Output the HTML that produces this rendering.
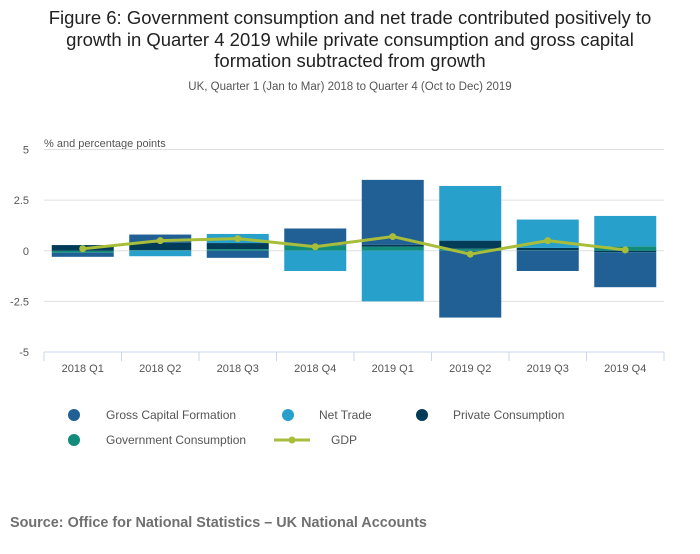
<!DOCTYPE html>
<html><head><meta charset="utf-8"><style>
body{margin:0;background:#fff;font-family:"Liberation Sans",sans-serif;}
svg text{font-family:"Liberation Sans",sans-serif;}
</style></head><body>
<svg id="c" width="700" height="549" xmlns="http://www.w3.org/2000/svg">
<text x="350" y="24" text-anchor="middle" font-size="18.5" fill="#222"><tspan x="350" y="24">Figure 6: Government consumption and net trade contributed positively to</tspan><tspan x="350" y="46">growth in Quarter 4 2019 while private consumption and gross capital</tspan><tspan x="350" y="67">formation subtracted from growth</tspan></text>
<text x="350" y="90" text-anchor="middle" font-size="11.5" fill="#555">UK, Quarter 1 (Jan to Mar) 2018 to Quarter 4 (Oct to Dec) 2019</text>
<text x="44" y="147" font-size="11" fill="#555">% and percentage points</text>
<g id="grid"></g><g id="bars"></g><g id="line"></g><g id="axis"></g>
<g font-size="12" fill="#555">
<circle cx="74" cy="415" r="6" fill="#206095"/>
<text x="106" y="419">Gross Capital Formation</text>
<circle cx="288" cy="415" r="6" fill="#27a0cc"/>
<text x="319" y="419">Net Trade</text>
<circle cx="422" cy="415" r="6" fill="#003c57"/>
<text x="453" y="419">Private Consumption</text>
<circle cx="74" cy="440" r="6" fill="#118c7b"/>
<text x="106" y="444">Government Consumption</text>
<line x1="274" y1="440" x2="310" y2="440" stroke="#a8bd3a" stroke-width="3"/>
<circle cx="292" cy="440" r="3.5" fill="#a8bd3a"/>
<text x="331" y="444">GDP</text>
</g>
<text x="10" y="527" font-size="14.4" font-weight="bold" fill="#707070">Source: Office for National Statistics – UK National Accounts</text>
</svg>
<script>
const categories=["2018 Q1","2018 Q2","2018 Q3","2018 Q4","2019 Q1","2019 Q2","2019 Q3","2019 Q4"];
const gcf=[-0.2,0.4,-0.35,0.83,3.2,-3.3,-1.0,-1.73];
const netTrade=[0,-0.27,0.45,-1.0,-2.5,2.7,1.4,1.5];
const privateCons=[0.28,0.37,0.3,0.02,0.1,0.4,0.12,-0.07];
const govCons=[-0.1,0.03,0.08,0.25,0.2,0.1,0.02,0.22];
const gdp=[0.1,0.5,0.6,0.2,0.7,-0.17,0.5,0.04];
const yTicks=[5,2.5,0,-2.5,-5];
const NS="http://www.w3.org/2000/svg";
const x0=44,x1=664,yTop=149.5,yBot=352;
const bw=(x1-x0)/categories.length;
function y(v){return yTop+(5-v)*(yBot-yTop)/10;}
function xc(i){return x0+bw*(i+0.5);}
function mk(t,a,p){const e=document.createElementNS(NS,t);for(const k in a)e.setAttribute(k,a[k]);p.appendChild(e);return e;}
const grid=document.getElementById('grid');
yTicks.forEach(v=>{
 if(v>-5){const l=mk('line',{x1:x0,x2:x1,y1:y(v),y2:y(v),stroke:'#e0e0e0','stroke-width':1},grid);
 
 }
 const t=mk('text',{x:29,y:y(v)+4,'text-anchor':'end','font-size':11,fill:'#555'},grid);t.textContent=v;
 
 
});
const series=[[gcf,'#206095','gcf'],[netTrade,'#27a0cc','net-trade'],[privateCons,'#003c57','private-consumption'],[govCons,'#118c7b','government-consumption']];
const bars=document.getElementById('bars');
categories.forEach((c,i)=>{
 let pos=0,neg=0;
 for(let s=series.length-1;s>=0;s--){
  const v=series[s][0][i];let a,b;
  if(v>=0){a=pos;b=pos+v;pos=b;}else{a=neg;b=neg+v;neg=b;}
  const r=mk('rect',{x:xc(i)-31,width:62,y:Math.min(y(a),y(b)),height:Math.abs(y(a)-y(b)),fill:series[s][1]},bars);
  
  
 }
});
const lg=document.getElementById('line');
const pl=mk('polyline',{points:gdp.map((v,i)=>xc(i)+','+y(v)).join(' '),fill:'none',stroke:'#a8bd3a','stroke-width':3},lg);


gdp.forEach((v,i)=>{const p=mk('circle',{cx:xc(i),cy:y(v),r:3.5,fill:'#a8bd3a'},lg);
 
 });
const ax=document.getElementById('axis');
const al=mk('line',{x1:x0,x2:x1,y1:yBot,y2:yBot,stroke:'#ccd6eb','stroke-width':1},ax);


for(let i=0;i<=categories.length;i++){const tk=mk('line',{x1:x0+bw*i,x2:x0+bw*i,y1:yBot,y2:yBot+9,stroke:'#ccd6eb'},ax);
 
 }
categories.forEach((c,i)=>{const t=mk('text',{x:xc(i),y:372,'text-anchor':'middle','font-size':11,fill:'#555'},ax);t.textContent=c;
 
 });
</script>
</body></html>
